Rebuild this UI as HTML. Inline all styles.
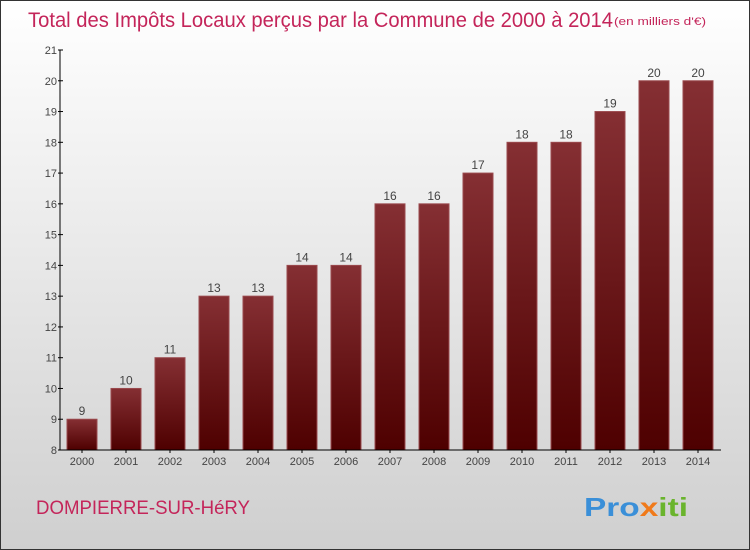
<!DOCTYPE html>
<html><head><meta charset="utf-8"><style>
body{margin:0}
#c{position:relative;width:748px;height:548px;border:1px solid #333;background:linear-gradient(#ffffff,#cfcfcf);overflow:hidden;font-family:"Liberation Sans",sans-serif}
</style></head><body>
<div id="c">
<svg width="748" height="548" id="s">
<defs><linearGradient id="g" x1="0" y1="0" x2="0" y2="1"><stop offset="0" stop-color="#852f33"/><stop offset="1" stop-color="#4e0000"/></linearGradient></defs>
<text x="27" y="26" font-size="21" fill="#c4255a" textLength="585" lengthAdjust="spacingAndGlyphs">Total des Impôts Locaux perçus par la Commune de 2000 à 2014</text>
<text x="613" y="24" font-size="11" fill="#c4255a" textLength="92" lengthAdjust="spacingAndGlyphs">(en milliers d'€)</text>
<text x="35" y="513" font-size="19" fill="#c4255a" textLength="214" lengthAdjust="spacingAndGlyphs">DOMPIERRE-SUR-HéRY</text>
<text x="583" y="515" font-size="26" font-weight="bold" fill="#3a8fd8" textLength="104" lengthAdjust="spacingAndGlyphs">Pro<tspan fill="#f07a1a">x</tspan><tspan fill="#6ab42d">iti</tspan></text>
<g id="plot"></g>
</svg>
</div>
<script>
const years=["2000","2001","2002","2003","2004","2005","2006","2007","2008","2009","2010","2011","2012","2013","2014"];
const values=[9,10,11,13,13,14,14,16,16,17,18,18,19,20,20];
const yTicks=[8,9,10,11,12,13,14,15,16,17,18,19,20,21];
const NS="http://www.w3.org/2000/svg";
const g=document.getElementById('plot');
const y0=449,yTop=49,vmin=8,vmax=21,ax=59;
const yS=v=>y0-(v-vmin)*(y0-yTop)/(vmax-vmin);
const xS=i=>81+i*44;
function el(t,a,p){const e=document.createElementNS(NS,t);for(const k in a)e.setAttribute(k,a[k]);(p||g).appendChild(e);return e;}
values.forEach((v,i)=>{
 const r=el('rect',{x:xS(i)-15,y:yS(v),width:30,height:y0-yS(v),fill:'url(#g)',stroke:'#9a4a4e','stroke-width':1});
 
 
 const t=el('text',{x:xS(i),y:yS(v)-4,'text-anchor':'middle','font-size':12,fill:'#444'});t.textContent=v;
 
 
 const xl=el('text',{x:xS(i),y:y0+15,'text-anchor':'middle','font-size':11,fill:'#444'});xl.textContent=years[i];
 
 
 el('line',{x1:xS(i),x2:xS(i),y1:y0,y2:y0+3,stroke:'#000'});
});
yTicks.forEach(v=>{
 el('line',{x1:ax-2,x2:ax+3,y1:yS(v),y2:yS(v),stroke:'#000'});
 const t=el('text',{x:ax-3,y:yS(v)+4,'text-anchor':'end','font-size':11,fill:'#444'});t.textContent=v;
 
 
});
const ya=el('line',{x1:ax,x2:ax,y1:yTop,y2:y0,stroke:'#000'});


const xa=el('line',{x1:ax,x2:720,y1:y0,y2:y0,stroke:'#000'});


</script>
</body></html>
